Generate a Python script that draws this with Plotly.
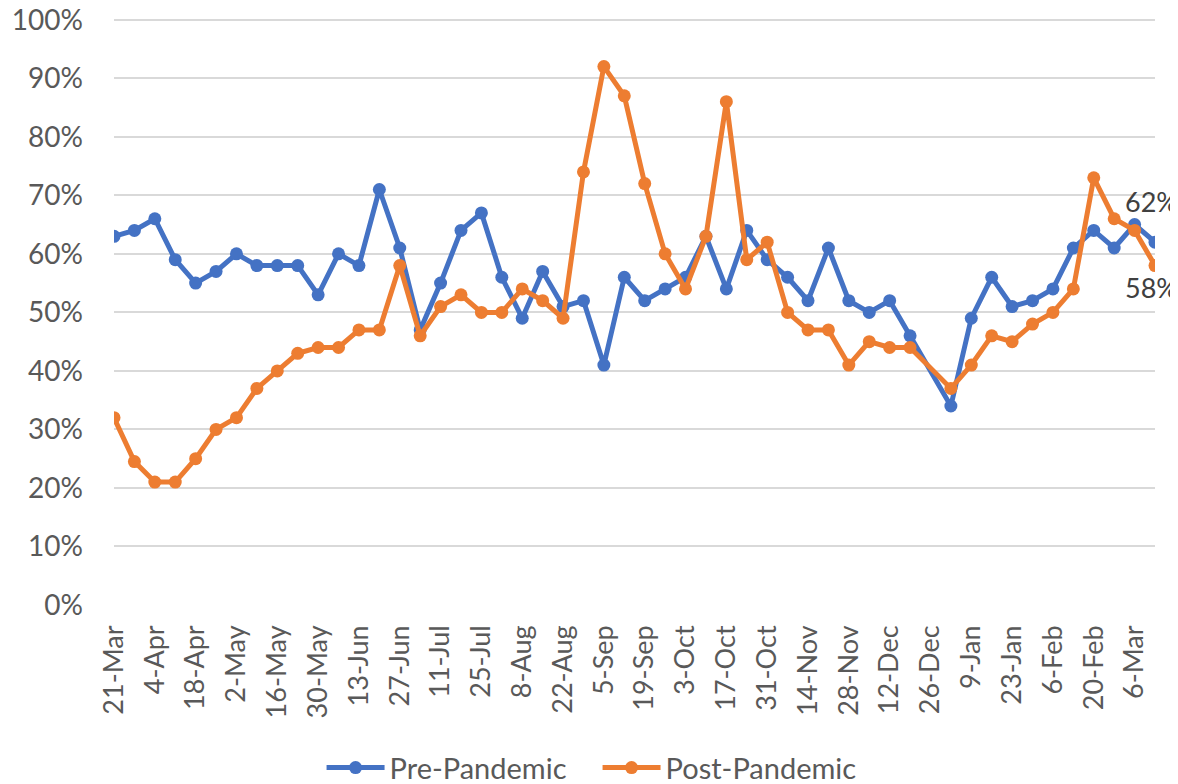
import plotly.graph_objects as go

categories = ["21-Mar", "28-Mar", "4-Apr", "11-Apr", "18-Apr", "25-Apr", "2-May", "9-May",
              "16-May", "23-May", "30-May", "6-Jun", "13-Jun", "20-Jun", "27-Jun", "4-Jul",
              "11-Jul", "18-Jul", "25-Jul", "1-Aug", "8-Aug", "15-Aug", "22-Aug", "29-Aug",
              "5-Sep", "12-Sep", "19-Sep", "26-Sep", "3-Oct", "10-Oct", "17-Oct", "24-Oct",
              "31-Oct", "7-Nov", "14-Nov", "21-Nov", "28-Nov", "5-Dec", "12-Dec", "19-Dec",
              "26-Dec", "2-Jan", "9-Jan", "16-Jan", "23-Jan", "30-Jan", "6-Feb", "13-Feb",
              "20-Feb", "27-Feb", "6-Mar", "13-Mar"]

pre_pandemic = [63, 64, 66, 59, 55, 57, 60, 58, 58, 58, 53, 60, 58, 71, 61, 47,
                55, 64, 67, 56, 49, 57, 51, 52, 41, 56, 52, 54, 56, 63, 54, 64,
                59, 56, 52, 61, 52, 50, 52, 46, None, 34, 49, 56, 51, 52, 54, 61,
                64, 61, 65, 62]

post_pandemic = [32, 24.5, 21, 21, 25, 30, 32, 37, 40, 43, 44, 44, 47, 47, 58, 46,
                 51, 53, 50, 50, 54, 52, 49, 74, 92, 87, 72, 60, 54, 63, 86, 59,
                 62, 50, 47, 47, 41, 45, 44, 44, None, 37, 41, 46, 45, 48, 50, 54,
                 73, 66, 64, 58]

tick_labels = categories[::2]
y_ticks = [0, 0.1, 0.2, 0.3, 0.4, 0.5, 0.6, 0.7, 0.8, 0.9, 1.0]

BLUE = "#4472C4"
ORANGE = "#ED7D31"
FONT = "Lato"


def frac(vals):
    return [None if v is None else v / 100 for v in vals]


fig = go.Figure()
fig.add_trace(go.Scatter(
    x=categories, y=frac(pre_pandemic), name="Pre-Pandemic",
    mode="lines+markers", connectgaps=True,
    line=dict(color=BLUE, width=5), marker=dict(color=BLUE, size=13),
))
fig.add_trace(go.Scatter(
    x=categories, y=frac(post_pandemic), name="Post-Pandemic",
    mode="lines+markers", connectgaps=True,
    line=dict(color=ORANGE, width=5), marker=dict(color=ORANGE, size=13),
))

fig.add_annotation(x=categories[-1], y=pre_pandemic[-1] / 100, text=f"{pre_pandemic[-1]}%",
                   showarrow=False, yshift=41, xshift=-4,
                   font=dict(family=FONT, size=27, color="#404040"))
fig.add_annotation(x=categories[-1], y=post_pandemic[-1] / 100, text=f"{post_pandemic[-1]}%",
                   showarrow=False, yshift=-22, xshift=-4,
                   font=dict(family=FONT, size=27, color="#404040"))

# the page body has an 8px margin, so the figure is drawn 8px smaller and offset
fig.update_layout(
    width=1170, height=776,
    margin=dict(l=106, r=23, t=10, b=179, autoexpand=False),
    paper_bgcolor="white", plot_bgcolor="white",
    font=dict(family=FONT, color="#595959"),
    showlegend=True,
    legend=dict(orientation="h", xref="container", x=0.268, xanchor="left",
                yref="container", y=0.021, yanchor="middle",
                font=dict(family=FONT, size=29, color="#595959"), itemwidth=58,
                entrywidth=203, entrywidthmode="pixels",
                traceorder="normal"),
)
fig.update_xaxes(
    type="category", tickmode="array", tickvals=tick_labels, ticktext=tick_labels,
    tickangle=-90, tickfont=dict(family=FONT, size=27, color="#595959"),
    showgrid=False, showline=False, zeroline=False, ticks="",
    range=[0, len(categories) - 1], automargin=False, ticklabelstandoff=14,
)
fig.update_yaxes(
    range=[0, 1.003], tickvals=y_ticks, tickformat=".0%",
    tickfont=dict(family=FONT, size=28, color="#595959"),
    showgrid=True, gridcolor="#D9D9D9", gridwidth=1.5, zeroline=False,
    showline=False, ticks="", ticklabelstandoff=30, automargin=False,
    ticklabeloverflow="allow",
)

fig.write_html("out.html")
